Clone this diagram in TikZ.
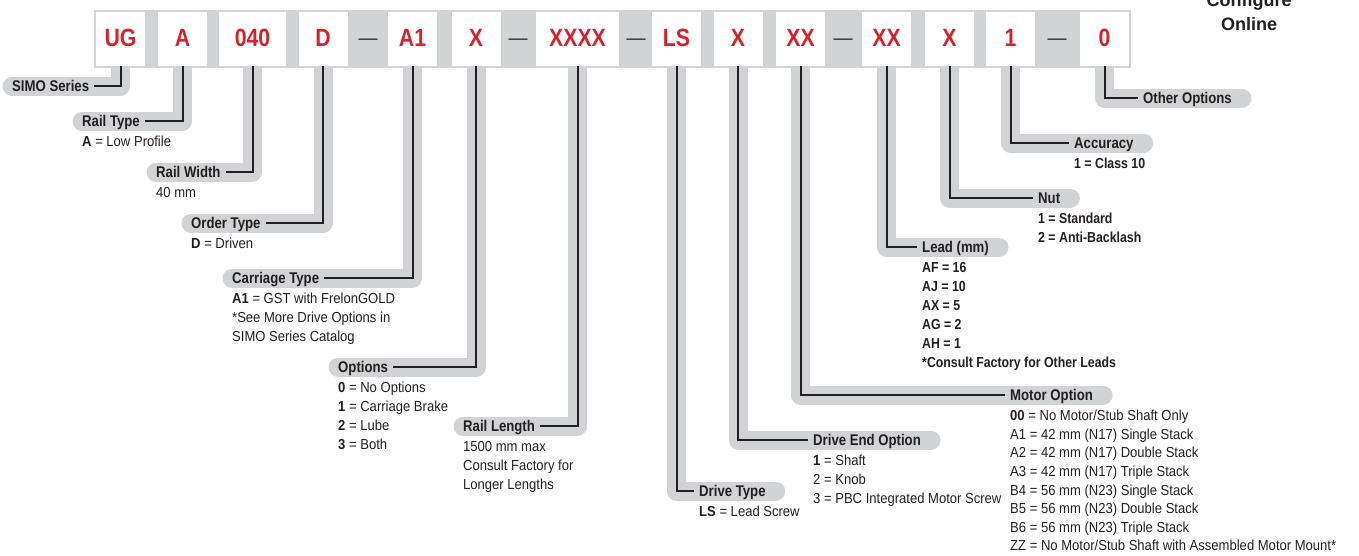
\documentclass[tikz,border=0pt]{standalone}
\usepackage{fontspec}
\setmainfont{Liberation Sans}
\newfontfamily\condfont{Liberation Sans}[FakeStretch=0.85]
\newfontfamily\descfont{Liberation Sans}[FakeStretch=0.9]
\usetikzlibrary{positioning, calc, backgrounds}
\definecolor{simored}{RGB}{218,33,42}
\definecolor{bandgray}{RGB}{209,211,212}
\definecolor{inkdark}{RGB}{35,31,32}

\begin{document}
\begin{tikzpicture}[x=1pt, y=-1pt,
  codebox/.style={fill=white, minimum width=49pt, minimum height=54pt, inner sep=0pt, outer sep=0pt, text=simored, text height=17pt, text depth=2pt, font=\condfont\bfseries\fontsize{25}{28}\selectfont},
  sepdash/.style={text=inkdark, inner sep=0pt, font=\fontsize{19}{20}\selectfont},
  tag/.style={text=inkdark, anchor=west, inner xsep=5pt, inner ysep=0pt, text height=11pt, text depth=0pt, font=\condfont\bfseries\fontsize{15.5}{18}\selectfont},
  info/.style={text=inkdark, inner sep=0pt, align=left, font=\descfont\fontsize{14.5}{19}\selectfont},
  infobold/.style={info, font=\condfont\bfseries\fontsize{14.5}{19}\selectfont},
  band/.style={draw=bandgray, line width=19pt, line cap=round, line join=round},
  leader/.style={draw=inkdark, line width=2pt}
]
  \useasboundingbox (0,0) rectangle (1359,555);

  % part number boxes
  \node[codebox] (ug) at (120.5,39) {UG};
  \node[codebox] (rail) at (182.5,39) {A};
  \node[codebox, minimum width=67pt] (width) at (252.5,39) {040};
  \node[codebox] (order) at (323,39) {D};
  \node[sepdash] (d1) at (368,42) {—};
  \node[codebox] (carriage) at (412.5,39) {A1};
  \node[codebox] (opt) at (476,39) {X};
  \node[sepdash] (d2) at (518,42) {—};
  \node[codebox, minimum width=83pt] (length) at (577.5,39) {XXXX};
  \node[sepdash] (d3) at (636,42) {—};
  \node[codebox] (drive) at (676.5,39) {LS};
  \node[codebox] (dend) at (738,39) {X};
  \node[codebox] (motor) at (800.5,39) {XX};
  \node[sepdash] (d4) at (843,42) {—};
  \node[codebox] (lead) at (886.5,39) {XX};
  \node[codebox] (nut) at (949.5,39) {X};
  \node[codebox] (acc) at (1010.5,39) {1};
  \node[sepdash] (d5) at (1057,42) {—};
  \node[codebox] (other) at (1104.5,39) {0};

  \node[anchor=south, align=center, inner sep=0pt, text=inkdark, font=\bfseries\fontsize{18}{24}\selectfont] (cfg) at (1249,31) {Configure\\Online};

  % labels
  \node[tag] (simoT) at (7,86) {SIMO Series};
  \node[tag] (railT) at (77,121) {Rail Type};
  \node[tag] (widthT) at (151,172) {Rail Width};
  \node[tag] (orderT) at (186,223) {Order Type};
  \node[tag] (carrT) at (227,278) {Carriage Type};
  \node[tag] (optT) at (333,367) {Options};
  \node[tag] (lenT) at (458,426) {Rail Length};
  \node[tag] (driveT) at (694,491) {Drive Type};
  \node[tag] (dendT) at (808,440) {Drive End Option};
  \node[tag] (motorT) at (1005,395) {Motor Option};
  \node[tag] (leadT) at (917,247) {Lead (mm)};
  \node[tag] (nutT) at (1033,198) {Nut};
  \node[tag] (accT) at (1069,143) {Accuracy};
  \node[tag] (otherT) at (1138,98) {Other Options};

  % descriptions
  \node[info, below right=9.2pt and 5pt of railT.south west] (railD) {\textbf{A} = Low Profile};
  \node[info, below right=9.2pt and 5pt of widthT.south west] (widthD) {40 mm};
  \node[info, below right=9.2pt and 5pt of orderT.south west] (orderD) {\textbf{D} = Driven};
  \node[info, below right=9.2pt and 5pt of carrT.south west] (carrD) {\textbf{A1} = GST with FrelonGOLD\\*See More Drive Options in\\SIMO Series Catalog};
  \node[info, below right=9.2pt and 5pt of optT.south west] (optD) {\textbf{0} = No Options\\\textbf{1} = Carriage Brake\\\textbf{2} = Lube\\\textbf{3} = Both};
  \node[info, below right=9.2pt and 5pt of lenT.south west] (lenD) {1500 mm max\\Consult Factory for\\Longer Lengths};
  \node[info, below right=9.2pt and 5pt of driveT.south west] (driveD) {\textbf{LS} = Lead Screw};
  \node[info, below right=9.2pt and 5pt of dendT.south west] (dendD) {\textbf{1} = Shaft\\2 = Knob\\3 = PBC Integrated Motor Screw};
  \node[info, font=\descfont\fontsize{14.5}{18.6}\selectfont, below right=9.2pt and 5pt of motorT.south west] (motorD) {\textbf{00} = No Motor/Stub Shaft Only\\A1 = 42 mm (N17) Single Stack\\A2 = 42 mm (N17) Double Stack\\A3 = 42 mm (N17) Triple Stack\\B4 = 56 mm (N23) Single Stack\\B5 = 56 mm (N23) Double Stack\\B6 = 56 mm (N23) Triple Stack\\ZZ = No Motor/Stub Shaft with Assembled Motor Mount*};
  \node[infobold, below right=9.2pt and 5pt of leadT.south west] (leadD) {AF = 16\\AJ = 10\\AX = 5\\AG = 2\\AH = 1\\*Consult Factory for Other Leads};
  \node[infobold, below right=9.2pt and 5pt of nutT.south west] (nutD) {1 = Standard\\2 = Anti-Backlash};
  \node[infobold, below right=9.2pt and 5pt of accT.south west] (accD) {1 = Class 10};

  % gray bands behind the leaders
  \begin{scope}[on background layer]
    \fill[bandgray] (94,10) rectangle (1131,68);
    \foreach \b/\t in {ug/simoT, rail/railT, width/widthT, order/orderT, carriage/carrT, opt/optT, length/lenT}
      \draw[band] (\b.south) |- ($(\t.west)+(5,0)$);
    \foreach \b/\t in {drive/driveT, dend/dendT, motor/motorT, lead/leadT, nut/nutT, acc/accT, other/otherT}
      \draw[band] (\b.south) |- ($(\t.east)+(5,0)$);
  \end{scope}

  % leaders
  \foreach \b/\t in {ug/simoT, rail/railT, width/widthT, order/orderT, carriage/carrT, opt/optT, length/lenT}
    \draw[leader] (\b.south) |- (\t.east);
  \foreach \b/\t in {drive/driveT, dend/dendT, motor/motorT, lead/leadT, nut/nutT, acc/accT, other/otherT}
    \draw[leader] (\b.south) |- (\t.west);
\end{tikzpicture}
\end{document}
